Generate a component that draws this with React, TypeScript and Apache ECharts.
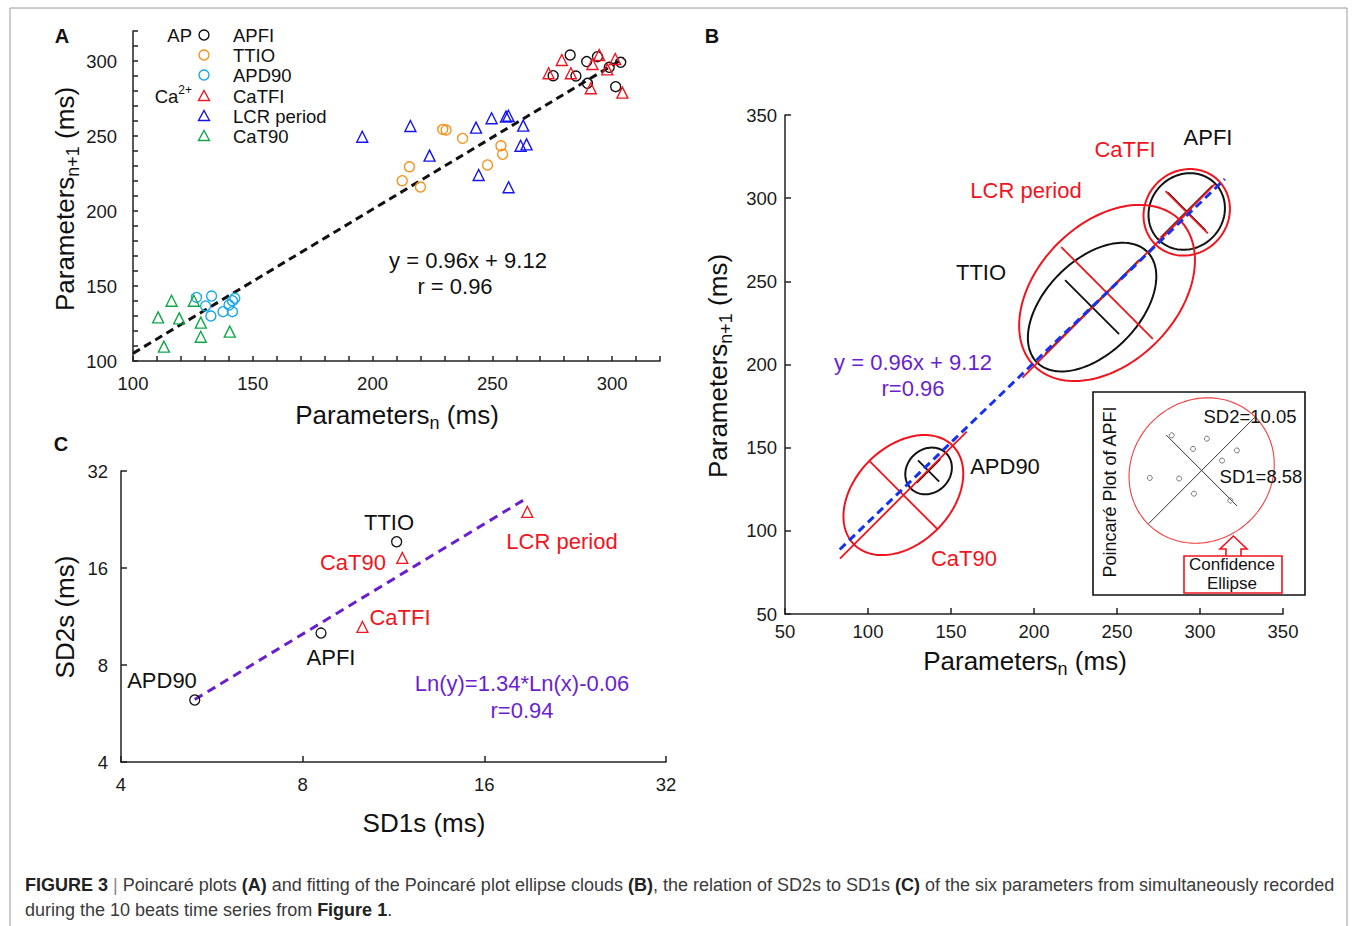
import React, { useEffect, useRef } from 'react';
import * as echarts from 'echarts';

const FONT = "'Liberation Sans', Arial, Helvetica, sans-serif";

// ---------- Panel A : Poincaré plots ----------
const apfiX = [282.5, 289.4, 293.9, 303.6, 298.8, 275.4, 284.9, 289.7, 301.5];
const apfiY = [304.0, 299.6, 302.9, 299.1, 295.8, 290.2, 290.0, 285.1, 282.9];
const ttioX = [229.3, 230.7, 237.6, 253.6, 254.3, 248.0, 215.4, 212.4, 220.0];
const ttioY = [254.4, 254.0, 248.4, 243.5, 237.8, 230.7, 229.5, 220.2, 216.0];
const apd90X = [126.5, 132.8, 130.3, 132.5, 137.6, 141.5, 140.1, 141.5, 142.5];
const apd90Y = [142.4, 143.3, 136.7, 130.0, 132.9, 132.9, 137.3, 140.2, 141.8];
const catfiX = [279.0, 291.8, 294.6, 301.3, 298.0, 273.5, 282.8, 291.1, 304.3];
const catfiY = [300.7, 298.0, 304.0, 301.3, 294.4, 291.8, 291.8, 281.8, 278.9];
const lcrX = [195.7, 215.8, 223.8, 243.2, 249.7, 255.7, 256.7, 262.9, 261.8, 264.3, 244.3, 256.8];
const lcrY = [249.5, 256.7, 236.9, 255.6, 261.8, 262.9, 263.5, 256.9, 243.5, 244.4, 224.0, 215.8];
const cat90X = [116.1, 125.4, 110.5, 119.3, 128.3, 128.3, 140.4, 112.9];
const cat90Y = [140.2, 140.2, 129.1, 128.4, 125.6, 116.2, 119.6, 109.6];
const fitAX = [100, 305];
const fitAY = [105.1, 301.9];
const ticksA = [100, 150, 200, 250, 300];

// ---------- Panel B : ellipse fits ----------
const ellNames = ['APFI', 'CaTFI', 'TTIO', 'LCR period', 'APD90', 'CaT90'];
const ellCx = [292, 292, 235, 244, 136.5, 121.3];
const ellCy = [292, 291.5, 234.5, 243, 136, 121.5];
const ellA = [24, 27, 47, 62, 15, 42];
const ellB = [22, 25, 28, 42, 13, 29];
const ellLa = [22, 24, 40, 72, 10, 54];
const ellLb = [16, 18, 23, 39, 9, 29];
const ellAngle = [45, 45, 45, 45, 45, 45];
const ellColor = ['#111111', '#F0141E', '#111111', '#F0141E', '#111111', '#F0141E'];
const fitBX = [83, 315];
const fitBY = [88.8, 311.5];

// inset (Poincaré plot of APFI)
const insetCx = [292.2];
const insetCy = [292.6];
const insetA = [24.5];
const insetB = [22.5];
const insetLa = [24.3];
const insetLb = [16.3];
const insetAngle = [45];

// ---------- Panel C : SD2 vs SD1 ----------
const cApNames = ['APD90', 'APFI', 'TTIO'];
const cApSD1 = [5.3, 8.58, 11.45];
const cApSD2 = [6.23, 10.05, 19.3];
const cCaNames = ['CaT90', 'CaTFI', 'LCR period'];
const cCaSD1 = [11.7, 10.05, 18.85];
const cCaSD2 = [17.2, 10.5, 23.9];
const fitCX = [5.3, 18.9];
const fitCY = [6.25, 26.5];

const RED = '#F0141E';
const BLACK = '#111111';
const ORANGE = '#F7931E';
const LBLUE = '#1BA9E8';
const BLUE = '#1414F0';
const GREEN = '#12A84A';
const PURPLE = '#6A1FCF';

const zip = (xs: number[], ys: number[]) => xs.map((x, i) => [x, ys[i]]);

function ellipseRenderer(ellColors: string[], lineColors: string[], ellWidth: number, lineWidth: number) {
  return (params: any, api: any) => {
    const cx = api.value(0), cy = api.value(1), a = api.value(2), b = api.value(3);
    const la = api.value(4), lb = api.value(5), ang = (api.value(6) * Math.PI) / 180;
    const ca = Math.cos(ang), sa = Math.sin(ang);
    const pts: number[][] = [];
    const N = 144;
    for (let i = 0; i <= N; i++) {
      const t = (i / N) * Math.PI * 2;
      const u = a * Math.cos(t), v = b * Math.sin(t);
      pts.push(api.coord([cx + u * ca - v * sa, cy + u * sa + v * ca]));
    }
    const p1 = api.coord([cx - la * ca, cy - la * sa]);
    const p2 = api.coord([cx + la * ca, cy + la * sa]);
    const q1 = api.coord([cx + lb * sa, cy - lb * ca]);
    const q2 = api.coord([cx - lb * sa, cy + lb * ca]);
    const ec = ellColors[params.dataIndex];
    const lc = lineColors[params.dataIndex];
    return {
      type: 'group',
      children: [
        { type: 'polyline', shape: { points: pts }, style: { stroke: ec, fill: 'none', lineWidth: ellWidth } },
        { type: 'line', shape: { x1: p1[0], y1: p1[1], x2: p2[0], y2: p2[1] }, style: { stroke: lc, lineWidth } },
        { type: 'line', shape: { x1: q1[0], y1: q1[1], x2: q2[0], y2: q2[1] }, style: { stroke: lc, lineWidth } },
      ],
    };
  };
}

const axisLineStyle = { color: '#222', width: 1.5 };
const labelStyle = { color: '#1a1a1a', fontFamily: FONT, fontSize: 18.5 };

function valueAxis(gridIndex: number, min: number, max: number, interval: number, margin: number, tickLen: number, fmt?: (v: number) => string) {
  return {
    type: 'value',
    gridIndex,
    min,
    max,
    interval,
    axisLine: { show: true, lineStyle: axisLineStyle },
    axisTick: { show: true, inside: true, length: tickLen, lineStyle: axisLineStyle },
    axisLabel: { ...labelStyle, margin, formatter: fmt },
    splitLine: { show: false },
  };
}

function logAxis(gridIndex: number) {
  return {
    type: 'log',
    logBase: 2,
    gridIndex,
    min: 4,
    max: 32,
    axisLine: { show: true, lineStyle: axisLineStyle },
    axisTick: { show: true, inside: true, length: 6, lineStyle: axisLineStyle },
    axisLabel: { ...labelStyle, margin: 13 },
    splitLine: { show: false },
    minorTick: { show: false },
  };
}

function hiddenAxis(gridIndex: number, min: number, max: number) {
  return { type: 'value', gridIndex, min, max, show: false, splitLine: { show: false } };
}

const fmtA = (v: number) => (ticksA.indexOf(v) >= 0 ? String(v) : '');

function txt(x: number, y: number, text: string, size: number, fill = BLACK, extra: any = {}) {
  return {
    type: 'text',
    x,
    y,
    z: 20,
    style: { text, fontSize: size, fontFamily: FONT, fill, align: 'center', verticalAlign: 'middle', ...extra },
  };
}

function richTitle(x: number, y: number, main1: string, sub: string, main2: string, rotate: boolean) {
  return {
    type: 'text',
    x,
    y,
    z: 20,
    rotation: rotate ? Math.PI / 2 : 0,
    style: {
      text: `{a|${main1}}{s|${sub}}{a|${main2}}`,
      align: 'center',
      verticalAlign: 'middle',
      rich: {
        a: { fontSize: 26, fontFamily: FONT, fill: BLACK, lineHeight: 34 },
        s: { fontSize: 18, fontFamily: FONT, fill: BLACK, lineHeight: 18, verticalAlign: 'bottom' },
      },
    },
  };
}

function legendSymbol(kind: string, x: number, y: number, color: string) {
  if (kind === 'circle') {
    return { type: 'circle', z: 20, shape: { cx: x, cy: y, r: 5 }, style: { fill: 'none', stroke: color, lineWidth: 1.4 } };
  }
  return {
    type: 'polygon',
    z: 20,
    shape: { points: [[x, y - 5.5], [x + 5.5, y + 4.5], [x - 5.5, y + 4.5]] },
    style: { fill: 'none', stroke: color, lineWidth: 1.4 },
  };
}

const legendRows = [
  { name: 'APFI', kind: 'circle', color: BLACK, y: 35 },
  { name: 'TTIO', kind: 'circle', color: ORANGE, y: 55 },
  { name: 'APD90', kind: 'circle', color: LBLUE, y: 75 },
  { name: 'CaTFI', kind: 'tri', color: RED, y: 96 },
  { name: 'LCR period', kind: 'tri', color: BLUE, y: 116 },
  { name: 'CaT90', kind: 'tri', color: GREEN, y: 136 },
];

function scatter(name: string, xi: number, xs: number[], ys: number[], symbol: string, color: string, size: number, bw = 1.4) {
  return {
    name,
    type: 'scatter',
    xAxisIndex: xi,
    yAxisIndex: xi,
    data: zip(xs, ys),
    symbol,
    symbolSize: size,
    itemStyle: { color: 'rgba(0,0,0,0)', borderColor: color, borderWidth: bw, opacity: 1 },
    emphasis: { disabled: true },
    silent: true,
    z: 3,
  };
}

function buildOption() {
  const graphicEls: any[] = [];
  // outer frame
  graphicEls.push({ type: 'rect', z: 0, shape: { x: 10, y: 8, width: 1337, height: 940 }, style: { fill: 'none', stroke: '#9a9a9a', lineWidth: 1 } });

  // panel letters
  graphicEls.push(txt(62, 36, 'A', 20, BLACK, { fontWeight: 'bold' }));
  graphicEls.push(txt(712, 36, 'B', 20, BLACK, { fontWeight: 'bold' }));
  graphicEls.push(txt(61, 444, 'C', 20, BLACK, { fontWeight: 'bold' }));

  // panel A legend
  graphicEls.push(txt(192, 35, 'AP', 18.5, BLACK, { align: 'right' }));
  graphicEls.push({
    type: 'text', x: 192, y: 96, z: 20,
    style: {
      text: '{a|Ca}{p|2+}', align: 'right', verticalAlign: 'middle',
      rich: {
        a: { fontSize: 18.5, fontFamily: FONT, fill: BLACK, lineHeight: 24 },
        p: { fontSize: 12, fontFamily: FONT, fill: BLACK, lineHeight: 12, verticalAlign: 'top' },
      },
    },
  });
  legendRows.forEach((r) => {
    graphicEls.push(legendSymbol(r.kind, 204, r.y, r.color));
    graphicEls.push(txt(233, r.y, r.name, 18.5, BLACK, { align: 'left' }));
  });
  graphicEls.push(txt(468, 260, 'y = 0.96x + 9.12', 22));
  graphicEls.push(txt(455, 286, 'r = 0.96', 22));

  // axis titles
  graphicEls.push(richTitle(397, 415, 'Parameters', 'n', ' (ms)', false));
  graphicEls.push(richTitle(65, 199, 'Parameters', 'n+1', ' (ms)', true));
  graphicEls.push(richTitle(1025, 661, 'Parameters', 'n', ' (ms)', false));
  graphicEls.push(richTitle(718, 366, 'Parameters', 'n+1', ' (ms)', true));
  graphicEls.push(txt(424, 823, 'SD1s (ms)', 26));
  graphicEls.push({ ...txt(65, 617, 'SD2s (ms)', 26), rotation: Math.PI / 2 });

  // panel B labels
  graphicEls.push(txt(1125, 149, 'CaTFI', 22, RED));
  graphicEls.push(txt(1208, 137, 'APFI', 22, BLACK));
  graphicEls.push(txt(1026, 190, 'LCR period', 22, RED));
  graphicEls.push(txt(981, 272, 'TTIO', 22, BLACK));
  graphicEls.push(txt(1005, 466, 'APD90', 22, BLACK));
  graphicEls.push(txt(964, 558, 'CaT90', 22, RED));
  graphicEls.push(txt(913, 362, 'y = 0.96x + 9.12', 22, PURPLE));
  graphicEls.push(txt(913, 388, 'r=0.96', 22, PURPLE));

  // inset box
  graphicEls.push({ type: 'rect', z: 15, shape: { x: 1093, y: 392, width: 212, height: 203 }, style: { fill: 'none', stroke: '#111', lineWidth: 1.6 } });
  graphicEls.push({ ...txt(1110, 492, 'Poincaré Plot of APFI', 18, BLACK), rotation: Math.PI / 2 });
  graphicEls.push(txt(1250, 416, 'SD2=10.05', 18.5, BLACK));
  graphicEls.push(txt(1261, 476, 'SD1=8.58', 18.5, BLACK));
  graphicEls.push({ type: 'rect', z: 15, shape: { x: 1184, y: 556, width: 98, height: 37 }, style: { fill: '#fff', stroke: RED, lineWidth: 1.6 } });
  graphicEls.push({
    type: 'polyline', z: 16,
    shape: { points: [[1226, 556], [1226, 549], [1220, 549], [1233.4, 536], [1247, 549], [1241, 549], [1241, 556]] },
    style: { fill: 'none', stroke: RED, lineWidth: 1.6 },
  });
  graphicEls.push(txt(1232, 564, 'Confidence', 17, BLACK));
  graphicEls.push(txt(1232, 583, 'Ellipse', 17, BLACK));

  // panel C labels
  graphicEls.push(txt(389, 522, 'TTIO', 22, BLACK));
  graphicEls.push(txt(353, 562, 'CaT90', 22, RED));
  graphicEls.push(txt(562, 541, 'LCR period', 22, RED));
  graphicEls.push(txt(400, 617, 'CaTFI', 22, RED));
  graphicEls.push(txt(331, 657, 'APFI', 22, BLACK));
  graphicEls.push(txt(162, 680, 'APD90', 22, BLACK));
  graphicEls.push(txt(522, 683, 'Ln(y)=1.34*Ln(x)-0.06', 22, PURPLE));
  graphicEls.push(txt(522, 710, 'r=0.94', 22, PURPLE));

  // caption
  const cap = { fontSize: 18, fontFamily: FONT, fill: '#3a3a3a', lineHeight: 24 };
  const capB = { ...cap, fontWeight: 'bold', fill: '#222' };
  const capBar = { ...cap, fill: '#888' };
  graphicEls.push({
    type: 'text', x: 25, y: 885, z: 20,
    style: {
      text: '{b|FIGURE 3 }{g||}{n| Poincaré plots }{b|(A)}{n| and fitting of the Poincaré plot ellipse clouds }{b|(B)}{n|, the relation of SD2s to SD1s }{b|(C)}{n| of the six parameters from simultaneously recorded}',
      align: 'left', verticalAlign: 'middle', rich: { n: cap, b: capB, g: capBar },
    },
  });
  graphicEls.push({
    type: 'text', x: 25, y: 910, z: 20,
    style: {
      text: '{n|during the 10 beats time series from }{b|Figure 1}{n|.}',
      align: 'left', verticalAlign: 'middle', rich: { n: cap, b: capB },
    },
  });

  const ellData = ellCx.map((cx, i) => [cx, ellCy[i], ellA[i], ellB[i], ellLa[i], ellLb[i], ellAngle[i]]);
  const insetData = insetCx.map((cx, i) => [cx, insetCy[i], insetA[i], insetB[i], insetLa[i], insetLb[i], insetAngle[i]]);

  return {
    animation: false,
    backgroundColor: '#ffffff',
    grid: [
      { left: 133, top: 31, width: 527, height: 330, outerBoundsMode: 'none' },
      { left: 785, top: 115, width: 498, height: 499, outerBoundsMode: 'none' },
      { left: 121, top: 471, width: 545, height: 291, outerBoundsMode: 'none' },
      { left: 1093, top: 392, width: 213, height: 204, outerBoundsMode: 'none' },
    ],
    xAxis: [
      valueAxis(0, 100, 320, 10, 13, 5, fmtA),
      valueAxis(1, 50, 350, 50, 8, 6),
      logAxis(2),
      hiddenAxis(3, 257, 326),
    ],
    yAxis: [
      valueAxis(0, 100, 320, 10, 16, 5, fmtA),
      valueAxis(1, 50, 350, 50, 8, 6),
      logAxis(2),
      hiddenAxis(3, 252, 318),
    ],
    series: [
      // Panel A
      {
        type: 'line', xAxisIndex: 0, yAxisIndex: 0, data: zip(fitAX, fitAY), symbol: 'none', silent: true,
        lineStyle: { color: BLACK, width: 3, type: [8, 5] }, z: 2,
      },
      scatter('APFI', 0, apfiX, apfiY, 'circle', BLACK, 10),
      scatter('TTIO', 0, ttioX, ttioY, 'circle', ORANGE, 10),
      scatter('APD90', 0, apd90X, apd90Y, 'circle', LBLUE, 10),
      scatter('CaTFI', 0, catfiX, catfiY, 'triangle', RED, 11),
      scatter('LCR period', 0, lcrX, lcrY, 'triangle', BLUE, 11),
      scatter('CaT90', 0, cat90X, cat90Y, 'triangle', GREEN, 11),
      // Panel B
      {
        type: 'custom', name: 'ellipses', xAxisIndex: 1, yAxisIndex: 1, data: ellData, silent: true, z: 2,
        renderItem: ellipseRenderer(ellColor, ellColor, 2, 1.8),
      },
      {
        type: 'line', xAxisIndex: 1, yAxisIndex: 1, data: zip(fitBX, fitBY), symbol: 'none', silent: true,
        lineStyle: { color: '#1432F0', width: 3, type: [8, 5] }, z: 4,
      },
      // Panel C
      {
        type: 'line', xAxisIndex: 2, yAxisIndex: 2, data: zip(fitCX, fitCY), symbol: 'none', silent: true,
        lineStyle: { color: PURPLE, width: 3, type: [9, 6] }, z: 2,
      },
      scatter('AP SDs', 2, cApSD1, cApSD2, 'circle', BLACK, 10, 1.3),
      scatter('Ca SDs', 2, cCaSD1, cCaSD2, 'triangle', RED, 11, 1.3),
      // Inset
      {
        type: 'custom', name: 'inset ellipse', xAxisIndex: 3, yAxisIndex: 3, data: insetData, silent: true, z: 2,
        renderItem: ellipseRenderer(['#F04040'], ['#333333'], 1.1, 1),
      },
      scatter('APFI inset', 3, apfiX, apfiY, 'circle', '#777777', 5, 1),
    ],
    graphic: { elements: graphicEls },
  };
}

export default function App() {
  const ref = useRef<HTMLDivElement>(null);
  useEffect(() => {
    if (!ref.current) return;
    const chart = echarts.init(ref.current, undefined, { renderer: 'svg' });
    chart.setOption(buildOption() as any);
    return () => chart.dispose();
  }, []);
  return (
    <div
      ref={ref}
      style={{ position: 'absolute', left: 0, top: 0, width: 1357, height: 926, background: '#fff' }}
    />
  );
}
